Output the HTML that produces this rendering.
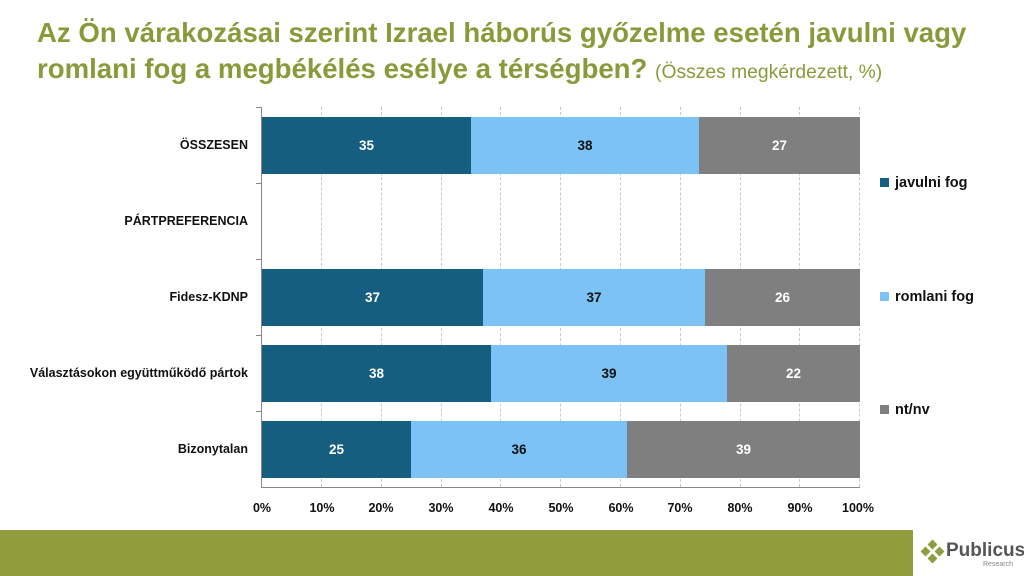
<!DOCTYPE html>
<html><head><meta charset="utf-8"><style>
body{margin:0;width:1024px;height:576px;background:#fff;position:relative;overflow:hidden;font-family:"Liberation Sans",sans-serif}
.t{position:absolute;left:37px;color:#8a9a3a;font-weight:bold;font-size:27.6px;white-space:nowrap}
.cat{position:absolute;right:776px;font-size:12.5px;font-weight:bold;color:#111;white-space:nowrap;transform:translateY(-50%)}
.bar{position:absolute;height:57px;color:#fff;font-weight:bold;font-size:13.5px;display:flex;align-items:center;justify-content:center}
.g{position:absolute;top:107px;height:380px;border-left:1px dashed #c8c8c8}
.tk{position:absolute;top:501px;font-size:12.5px;font-weight:bold;color:#111;transform:translateX(-50%)}
.lg{position:absolute;left:880px;font-size:14.5px;font-weight:bold;color:#111;transform:translateY(-50%)}
.lg i{display:inline-block;width:9px;height:9px;margin-right:6px}
</style></head><body>
<div class="t" style="top:17px">Az Ön várakozásai szerint Izrael háborús győzelme esetén javulni vagy</div>
<div class="t" style="top:53px">romlani fog a megbékélés esélye a térségben? <span style="font-weight:normal;font-size:19.3px">(Összes megkérdezett, %)</span></div>

<div class="g" style="left:321px"></div><div class="g" style="left:381px"></div><div class="g" style="left:441px"></div><div class="g" style="left:500px"></div><div class="g" style="left:560px"></div><div class="g" style="left:620px"></div><div class="g" style="left:680px"></div><div class="g" style="left:740px"></div><div class="g" style="left:799px"></div><div class="g" style="left:859px"></div>
<div style="position:absolute;left:261px;top:107px;width:1px;height:380px;background:#888"></div>
<div style="position:absolute;left:261px;top:487px;width:599px;height:1px;background:#888"></div>
<div style="position:absolute;left:256px;top:107px;width:5px;height:1px;background:#888"></div>
<div style="position:absolute;left:256px;top:183px;width:5px;height:1px;background:#888"></div>
<div style="position:absolute;left:256px;top:259px;width:5px;height:1px;background:#888"></div>
<div style="position:absolute;left:256px;top:335px;width:5px;height:1px;background:#888"></div>
<div style="position:absolute;left:256px;top:411px;width:5px;height:1px;background:#888"></div>

<div class="cat" style="top:145px">ÖSSZESEN</div>
<div class="cat" style="top:221px">PÁRTPREFERENCIA</div>
<div class="cat" style="top:297px">Fidesz-KDNP</div>
<div class="cat" style="top:373px">Választásokon együttműködő pártok</div>
<div class="cat" style="top:449px">Bizonytalan</div>

<div class="bar" style="top:117px;left:262px;width:209px;background:#155e80">35</div>
<div class="bar" style="top:117px;left:471px;width:228px;background:#7cc2f4;color:#111">38</div>
<div class="bar" style="top:117px;left:699px;width:161px;background:#7f7f7f">27</div>

<div class="bar" style="top:269px;left:262px;width:221px;background:#155e80">37</div>
<div class="bar" style="top:269px;left:483px;width:222px;background:#7cc2f4;color:#111">37</div>
<div class="bar" style="top:269px;left:705px;width:155px;background:#7f7f7f">26</div>

<div class="bar" style="top:345px;left:262px;width:229px;background:#155e80">38</div>
<div class="bar" style="top:345px;left:491px;width:236px;background:#7cc2f4;color:#111">39</div>
<div class="bar" style="top:345px;left:727px;width:133px;background:#7f7f7f">22</div>

<div class="bar" style="top:421px;left:262px;width:149px;background:#155e80">25</div>
<div class="bar" style="top:421px;left:411px;width:216px;background:#7cc2f4;color:#111">36</div>
<div class="bar" style="top:421px;left:627px;width:233px;background:#7f7f7f">39</div>

<div class="tk" style="left:262px">0%</div><div class="tk" style="left:322px">10%</div><div class="tk" style="left:381px">20%</div><div class="tk" style="left:441px">30%</div><div class="tk" style="left:501px">40%</div><div class="tk" style="left:561px">50%</div><div class="tk" style="left:621px">60%</div><div class="tk" style="left:680px">70%</div><div class="tk" style="left:740px">80%</div><div class="tk" style="left:800px">90%</div><div class="tk" style="left:858px">100%</div>

<div class="lg" style="top:183px"><i style="background:#155e80"></i>javulni fog</div>
<div class="lg" style="top:297px"><i style="background:#7cc2f4"></i>romlani fog</div>
<div class="lg" style="top:410px"><i style="background:#7f7f7f"></i>nt/nv</div>

<div style="position:absolute;left:0;top:530px;width:913px;height:46px;background:#8f9d3c"></div>
<div style="position:absolute;left:922px;top:541px;width:22px;height:22px">
<div style="position:absolute;left:7px;top:0;width:7px;height:7px;background:#8f9d3c;transform:rotate(45deg)"></div>
<div style="position:absolute;left:0;top:7px;width:7px;height:7px;background:#8f9d3c;transform:rotate(45deg)"></div>
<div style="position:absolute;left:14px;top:7px;width:7px;height:7px;background:#8f9d3c;transform:rotate(45deg)"></div>
<div style="position:absolute;left:7px;top:14px;width:7px;height:7px;background:#8f9d3c;transform:rotate(45deg)"></div>
</div>
<div style="position:absolute;left:946px;top:540px;font-size:19px;font-weight:bold;color:#555">Publicus</div>
<div style="position:absolute;left:983px;top:561px;font-size:7px;color:#888">Research</div>
</body></html>
